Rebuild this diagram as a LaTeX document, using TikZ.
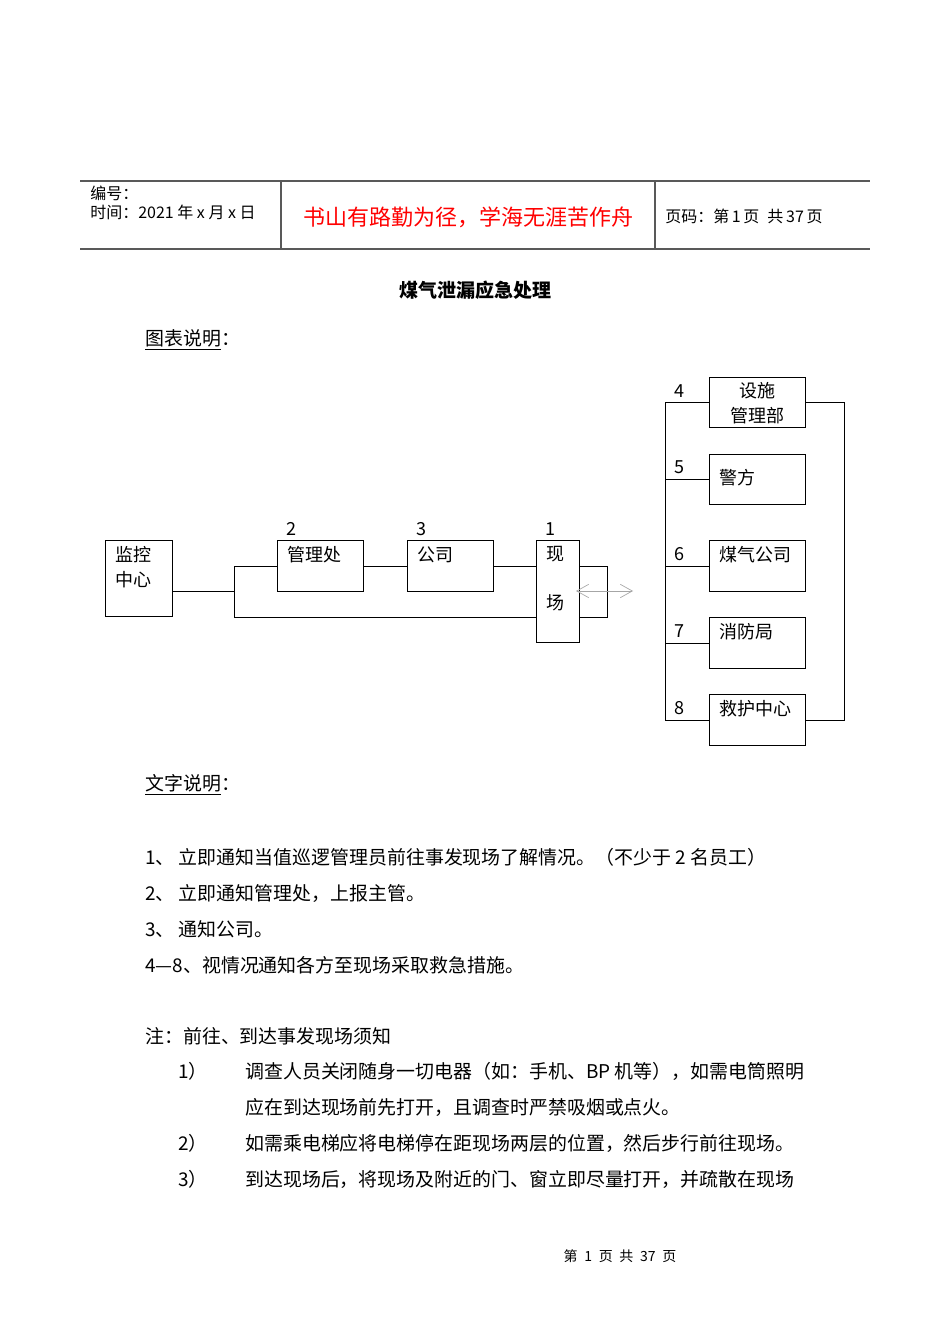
\documentclass[tikz,border=0pt]{standalone}
\usepackage{fontspec}
\setmainfont{Noto Sans CJK SC}
\usetikzlibrary{arrows.meta}
\begin{document}
\begin{tikzpicture}[x=0.75pt,y=-0.75pt,
  box/.style={draw,line width=0.7pt,inner sep=0pt,anchor=north west},
  intxt/.style={anchor=north west,inner sep=0pt,align=left,xshift=7.5pt,yshift=-4.5pt,
    font=\fontsize{13.5}{18.75}\selectfont},
  numtop/.style={anchor=south west,inner sep=0pt,xshift=7pt,yshift=3pt,
    font=\fontsize{13.5}{16}\selectfont},
  numleft/.style={anchor=south west,inner sep=0pt,xshift=-26.25pt,yshift=3.75pt,
    font=\fontsize{13.5}{16}\selectfont},
  link/.style={line width=0.7pt},
  hdr/.style={line width=1.1pt,black!65},
  txt/.style={anchor=west,inner sep=0pt,font=\fontsize{14.2}{17}\selectfont},
  small/.style={anchor=west,inner sep=0pt,font=\fontsize{12}{14}\selectfont}]
\fill[white] (0,0) rectangle (950,1344);
\useasboundingbox (0,0) rectangle (950,1344);

% header
\draw[hdr] (80,181) -- (870,181);
\draw[hdr] (80,249) -- (870,249);
\draw[hdr] (281,181) -- (281,249);
\draw[hdr] (655,181) -- (655,249);
\node[small] (hno) at (90,193) {编号：};
\node[small] (hdate) at (90,212) {时间：2021 年 x 月 x 日};
\node[inner sep=0pt,text=red,font=\fontsize{16.5}{20}\selectfont] (motto) at (468,217)
  {书山有路勤为径，学海无涯苦作舟};
\node[small] (hpage) at (665,216) {页码：第\,1\,页\enspace{}共\,37\,页};

\node[inner sep=0pt,font=\fontsize{14.25}{17}\selectfont\bfseries] (title) at (475,290)
  {煤气泄漏应急处理};
\node[txt] (tu) at (145,340) {\underline{图表说明}：};

% left chain
\node[box,minimum width=50.25pt,minimum height=57pt,
  label={[intxt]north west:监控\\中心}] (jk) at (105,540) {};
\node[box,minimum width=64.5pt,minimum height=38.25pt,
  label={[intxt]north west:管理处},label={[numtop]north west:2}] (gl) at (277,540) {};
\node[box,minimum width=64.5pt,minimum height=38.25pt,
  label={[intxt]north west:公司},label={[numtop]north west:3}] (gs) at (407,540) {};
\node[box,minimum width=32.25pt,minimum height=76.5pt,
  label={[intxt,align=center]north west:现\\[18pt]场},label={[numtop]north west:1}] (xc) at (536,540) {};

\coordinate (j1) at (234,591);
\coordinate (j3) at (234,617);
\coordinate (r1) at (607,565);
\draw[link] (jk.east |- j1) -- (j1);
\draw[link] (gl.west) -| (j3) -- (j3 -| xc.west);
\draw[link] (gl.east) -- (gs.west);
\draw[link] (gs.east) -- (gs.east -| xc.west);
\draw[link] (gs.east -| xc.east) -| (r1 |- j3) -- (j3 -| xc.east);

\coordinate (arl) at (576,591);
\coordinate (arr) at (633,591);
\draw[black!35,line width=0.5pt,{Straight Barb[length=9pt,width=10pt]}-{Straight Barb[length=9pt,width=10pt]}]
  (arl) -- (arr);

% right column
\node[box,minimum width=72pt,minimum height=37.5pt,
  label={[intxt,anchor=north,xshift=-7.5pt,yshift=1pt,align=center]north:设施\\管理部},
  label={[numleft]west:4}] (sg) at (709,377) {};
\node[box,minimum width=72pt,minimum height=37.5pt,
  label={[intxt,anchor=west,yshift=6pt]west:警方},
  label={[numleft]west:5}] (jf) at (709,454) {};
\node[box,minimum width=72pt,minimum height=38.25pt,
  label={[intxt]north west:煤气公司},label={[numleft]west:6}] (mq) at (709,540) {};
\node[box,minimum width=72pt,minimum height=38.25pt,
  label={[intxt]north west:消防局},label={[numleft]west:7}] (xf) at (709,617) {};
\node[box,minimum width=72pt,minimum height=38.25pt,
  label={[intxt]north west:救护中心},label={[numleft]west:8}] (jh) at (709,694) {};

\coordinate (lbus) at (665,0);
\coordinate (rbus) at (844,0);
\draw[link] (sg.west) -- (sg.west -| lbus) -- (jh.west -| lbus) -- (jh.west);
\foreach \b in {jf,mq,xf}
  \draw[link] (\b.west) -- (\b.west -| lbus);
\draw[link] (sg.east) -| (jh.east -| rbus) -- (jh.east);

% text
\node[txt] (wz) at (145,785) {\underline{文字说明}：};
\node[txt] (s1) at (145,857) {1、 立即通知当值巡逻管理员前往事发现场了解情况。（不少于 2 名员工）};
\node[txt] (s2) at (145,893) {2、 立即通知管理处，上报主管。};
\node[txt] (s3) at (145,929) {3、 通知公司。};
\node[txt] (s4) at (145,965) {4—8、视情况通知各方至现场采取救急措施。};

\node[txt] (zhu) at (145,1036) {注：前往、到达事发现场须知};
\node[txt] (n1) at (178,1071) {1）};
\node[txt] (n1a) at (245,1071) {调查人员关闭随身一切电器（如：手机、BP 机等），如需电筒照明};
\node[txt] (n1b) at (245,1107) {应在到达现场前先打开，且调查时严禁吸烟或点火。};
\node[txt] (n2) at (178,1143) {2）};
\node[txt] (n2a) at (245,1143) {如需乘电梯应将电梯停在距现场两层的位置，然后步行前往现场。};
\node[txt] (n3) at (178,1179) {3）};
\node[txt] (n3a) at (245,1179) {到达现场后，将现场及附近的门、窗立即尽量打开，并疏散在现场};

\node[inner sep=0pt,font=\fontsize{10.5}{12}\selectfont] (foot) at (620,1256)
  {第\hspace{5pt}1\hspace{5pt}页\hspace{5pt}共\hspace{5pt}37\hspace{5pt}页};
\end{tikzpicture}
\end{document}
